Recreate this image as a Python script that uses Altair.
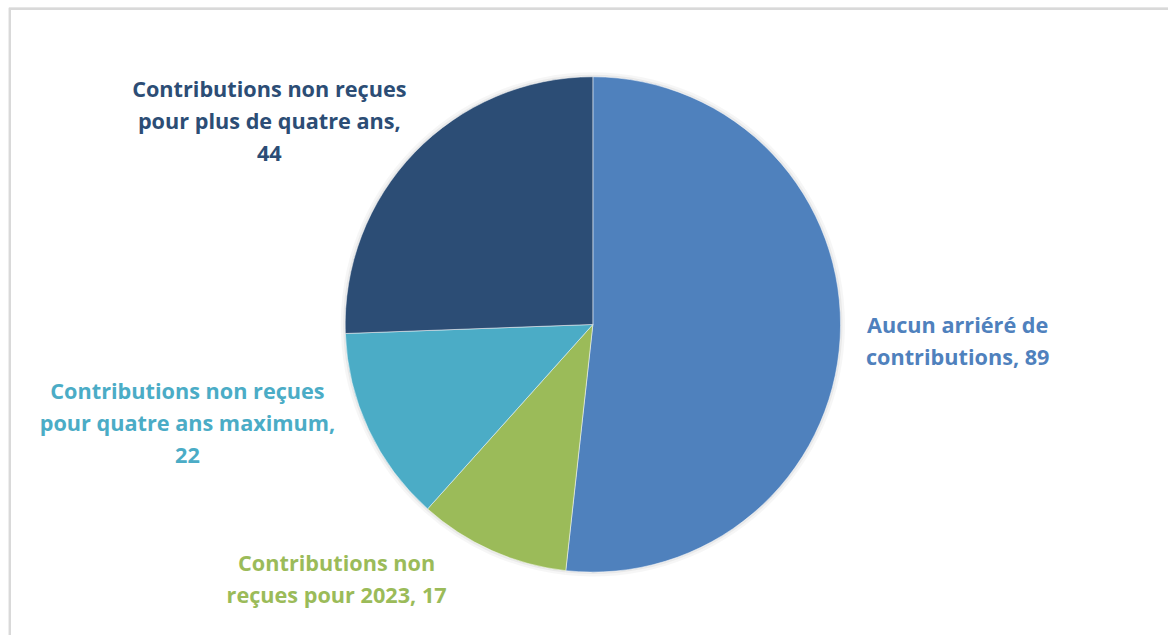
import altair as alt
import pandas as pd

categories = [
    "Aucun arriéré de contributions",
    "Contributions non reçues pour 2023",
    "Contributions non reçues pour quatre ans maximum",
    "Contributions non reçues pour plus de quatre ans",
]
values = [89, 17, 22, 44]
labels = [
    "Aucun arriéré de\ncontributions, 89",
    "Contributions non\nreçues pour 2023, 17",
    "Contributions non reçues\npour quatre ans maximum,\n22",
    "Contributions non reçues\npour plus de quatre ans,\n44",
]
colors = ["#4F81BD", "#9BBB59", "#4BACC6", "#2C4D75"]

df = pd.DataFrame({"cat": categories, "value": values, "label": labels, "idx": list(range(len(values)))})
total = sum(values)

theta_scale = alt.Scale(domain=[0, total])
color_scale = alt.Scale(domain=categories, range=colors)

base = alt.Chart(df)

frame = base.mark_rect(fill="#ffffff", fillOpacity=0, stroke="#d9d9d9", strokeWidth=2).encode(
    x=alt.value(-8), x2=alt.value(1300), y=alt.value(-3), y2=alt.value(700)
)

shadow1 = base.mark_arc(radius=256, color="#000000", opacity=0.035).encode(
    theta=alt.Theta("value:Q", stack=True, scale=theta_scale), order=alt.Order("idx:Q")
)
shadow2 = base.mark_arc(radius=253.5, color="#000000", opacity=0.05).encode(
    theta=alt.Theta("value:Q", stack=True, scale=theta_scale), order=alt.Order("idx:Q")
)

pie = base.mark_arc(radius=251.5, stroke="#ffffff", strokeWidth=1, strokeOpacity=0.5).encode(
    theta=alt.Theta("value:Q", stack=True, scale=theta_scale),
    color=alt.Color("cat:N", scale=color_scale, legend=None, sort=None),
    order=alt.Order("idx:Q"),
)

# label placement: (radius, dx, dy) relative to each slice's mid angle
place = {
    categories[0]: (366, 5, -18),
    categories[1]: (280, -146, -12),
    categories[2]: (300, -140, -59),
    categories[3]: (330, -91, -9),
}

text_layers = []
for c, col in zip(categories, colors):
    r, dx, dy = place[c]
    t = (
        base.transform_window(cum="sum(value)", sort=[alt.SortField("idx")], frame=[None, 0])
        .transform_calculate(mid="datum.cum - datum.value / 2")
        .transform_filter(alt.datum.cat == c)
        .mark_text(
            radius=r, dx=dx, dy=dy, font="Open Sans", fontWeight="bold", fontSize=22,
            lineBreak="\n", lineHeight=32.5, align="center", baseline="middle", color=col,
        )
        .encode(
            theta=alt.Theta("mid:Q", stack=False, scale=theta_scale),
            text="label:N",
        )
    )
    text_layers.append(t)

chart = (
    alt.layer(frame, shadow1, shadow2, pie, *text_layers)
    .properties(
        width=1168,
        height=635,
        padding={"left": 18, "top": 7, "right": 0, "bottom": 0},
        autosize=alt.AutoSizeParams(type="none"),
        background="#ffffff",
    )
    .configure_view(stroke=None)
)

chart.save("out.html", embed_options={"renderer": "svg", "actions": False})
